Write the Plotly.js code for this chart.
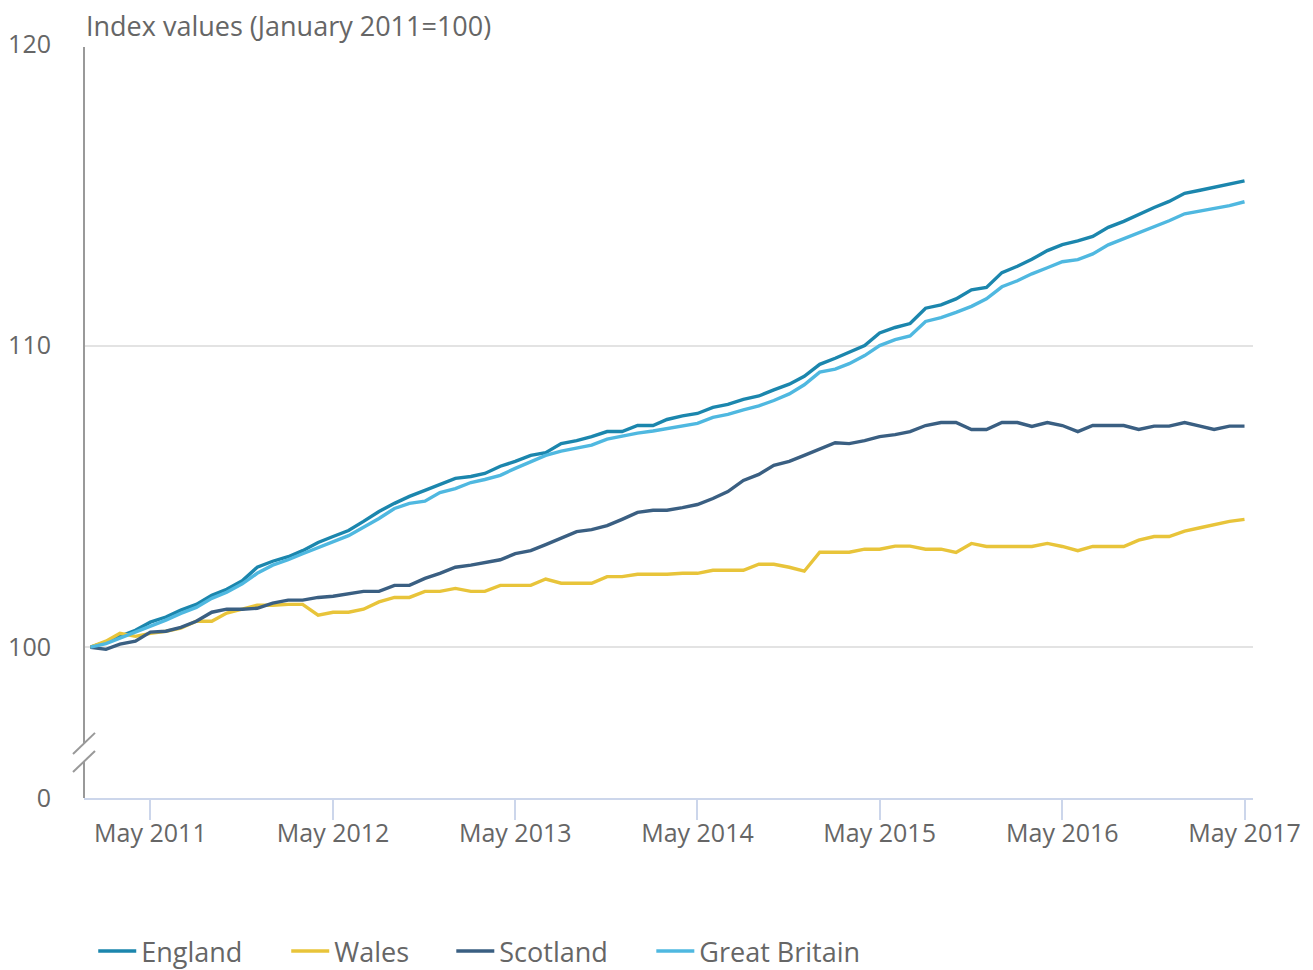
<!DOCTYPE html>
<html>
<head>
<meta charset="utf-8">
<script src="https://cdn.plot.ly/plotly-3.0.1.min.js"></script>
<style>
  html, body { margin: 0; padding: 0; background: #fff; }
  #chart { width: 1313px; height: 970px; }
</style>
</head>
<body>
<div id="chart"></div>
<script>
// Monthly index values, January 2011 to May 2017 (January 2011 = 100)
const startYear = 2011;
const nMonths = 77;
const months = [];
for (let i = 0; i < nMonths; i++) {
  const y = startYear + Math.floor(i / 12);
  const m = (i % 12) + 1;
  months.push(y + '-' + (m < 10 ? '0' + m : m) + '-01');
}

const seriesNames = ['England', 'Wales', 'Scotland', 'Great Britain'];
const seriesColors = ['#1b86ad', '#e8c43a', '#3a5f82', '#4fb8e0'];

const england = [
  100.0, 100.17, 100.36, 100.56, 100.83, 101.0, 101.23, 101.42, 101.72, 101.92, 102.2, 102.65,
  102.85, 103.0, 103.2, 103.47, 103.67, 103.87, 104.17, 104.5, 104.77, 105.0, 105.2, 105.4,
  105.6, 105.66, 105.76, 106.0, 106.16, 106.36, 106.45, 106.75, 106.85, 106.98, 107.15, 107.15,
  107.35, 107.35, 107.55, 107.67, 107.75, 107.95, 108.05, 108.22, 108.33, 108.53, 108.72, 108.98,
  109.38, 109.58, 109.77, 110.0, 110.42, 110.6, 110.73, 111.24, 111.35, 111.55, 111.85, 111.93,
  112.42, 112.63, 112.86, 113.15, 113.35, 113.47, 113.62, 113.92, 114.12, 114.35, 114.58, 114.78,
  115.05, 115.15, 115.25, 115.35, 115.46
];

const wales = [
  100.0, 100.2, 100.46, 100.36, 100.46, 100.53, 100.63, 100.86, 100.86, 101.13, 101.26, 101.39,
  101.39, 101.42, 101.42, 101.06, 101.16, 101.16, 101.26, 101.5, 101.65, 101.65, 101.85, 101.85,
  101.95, 101.85, 101.85, 102.05, 102.05, 102.05, 102.26, 102.12, 102.12, 102.12, 102.34, 102.34,
  102.42, 102.42, 102.42, 102.45, 102.45, 102.55, 102.55, 102.55, 102.75, 102.75, 102.65, 102.52,
  103.15, 103.15, 103.15, 103.25, 103.25, 103.35, 103.35, 103.25, 103.25, 103.14, 103.44, 103.34,
  103.34, 103.34, 103.34, 103.44, 103.34, 103.2, 103.34, 103.34, 103.34, 103.55, 103.67, 103.67,
  103.85, 103.96, 104.07, 104.17, 104.24
];

const scotland = [
  100.0, 99.93, 100.1, 100.2, 100.5, 100.53, 100.66, 100.86, 101.16, 101.26, 101.26, 101.29,
  101.46, 101.56, 101.56, 101.65, 101.69, 101.76, 101.85, 101.85, 102.05, 102.05, 102.28, 102.45,
  102.65, 102.72, 102.8, 102.9, 103.1, 103.2, 103.4, 103.63, 103.83, 103.9, 104.03, 104.24,
  104.47, 104.54, 104.54, 104.63, 104.73, 104.93, 105.16, 105.53, 105.73, 106.03, 106.16, 106.36,
  106.56, 106.78, 106.75, 106.85, 106.98, 107.05, 107.15, 107.35, 107.45, 107.45, 107.22, 107.22,
  107.45, 107.45, 107.32, 107.45, 107.35, 107.15, 107.35, 107.35, 107.35, 107.22, 107.33, 107.33,
  107.45, 107.33, 107.22, 107.33, 107.33
];

const greatBritain = [
  100.0, 100.12, 100.3, 100.5, 100.72, 100.9, 101.12, 101.32, 101.62, 101.82, 102.1, 102.45,
  102.72, 102.9, 103.1, 103.3, 103.5, 103.7, 103.98, 104.27, 104.6, 104.77, 104.84, 105.13,
  105.26, 105.46, 105.56, 105.7, 105.93, 106.16, 106.36, 106.5, 106.6, 106.7, 106.9, 107.0,
  107.1, 107.17, 107.25, 107.32, 107.42, 107.62, 107.72, 107.87, 108.0, 108.18, 108.4, 108.7,
  109.12, 109.22, 109.4, 109.67, 110.0, 110.2, 110.32, 110.8, 110.93, 111.1, 111.3, 111.55,
  111.95, 112.15, 112.38, 112.58, 112.78, 112.85, 113.04, 113.34, 113.54, 113.74, 113.94, 114.14,
  114.37, 114.47, 114.55, 114.64, 114.77
];

const seriesValues = [england, wales, scotland, greatBritain];

// Axis ticks
const xTickVals = ['2011-05-01', '2012-05-01', '2013-05-01', '2014-05-01', '2015-05-01', '2016-05-01', '2017-05-01'];
const xTickText = ['May 2011', 'May 2012', 'May 2013', 'May 2014', 'May 2015', 'May 2016', 'May 2017'];
// The axis is broken: the bottom position (95) is labelled 0
const yTickVals = [95, 100, 110, 120];
const yTickText = ['0', '100', '110', '120'];

const legendNames = ['legend', 'legend2', 'legend3', 'legend4'];
const legendX = [0.0079, 0.1730, 0.3142, 0.4853];

const traces = seriesNames.map((name, i) => ({
  type: 'scatter',
  mode: 'lines',
  name: name,
  x: months,
  y: seriesValues[i],
  line: { color: seriesColors[i], width: 3.4 },
  legend: legendNames[i],
  hoverinfo: 'x+y+name'
}));

const FONT = 'Open Sans, sans-serif';
const GREY = '#666666';

function legendCfg(x) {
  return {
    orientation: 'h',
    x: x, xanchor: 'left',
    y: -0.2035, yanchor: 'middle',
    font: { family: FONT, size: 27, color: GREY },
    bgcolor: 'rgba(0,0,0,0)',
    borderwidth: 0,
    itemwidth: 38
  };
}

const axisGrey = '#999999';
const layout = {
  width: 1313,
  height: 970,
  margin: { l: 84, r: 60, t: 44, b: 172, autoexpand: false },
  paper_bgcolor: '#ffffff',
  plot_bgcolor: '#ffffff',
  font: { family: FONT, size: 25, color: GREY },
  showlegend: true,
  legend: legendCfg(legendX[0]),
  legend2: legendCfg(legendX[1]),
  legend3: legendCfg(legendX[2]),
  legend4: legendCfg(legendX[3]),
  xaxis: {
    type: 'date',
    range: ['2010-12-19', '2017-05-18'],
    tickvals: xTickVals,
    ticktext: xTickText,
    ticks: 'outside',
    ticklen: 20,
    tickwidth: 2,
    tickcolor: '#ccd6eb',
    ticklabelstandoff: -8,
    showline: true,
    linecolor: '#ccd6eb',
    linewidth: 2,
    showgrid: false,
    zeroline: false,
    tickfont: { family: FONT, size: 25, color: GREY }
  },
  yaxis: {
    range: [95, 120],
    tickvals: yTickVals,
    ticktext: yTickText,
    ticks: 'outside',
    ticklen: 27,
    tickcolor: 'rgba(0,0,0,0)',
    showline: false,
    showgrid: true,
    gridcolor: '#e3e3e3',
    gridwidth: 1.5,
    zeroline: false,
    tickfont: { family: FONT, size: 25, color: GREY }
  },
  annotations: [{
    text: 'Index values (January 2011=100)',
    xref: 'paper', yref: 'paper',
    x: 0, y: 1,
    xanchor: 'left', yanchor: 'bottom',
    showarrow: false,
    font: { family: FONT, size: 27, color: GREY },
    yshift: -2
  }],
  shapes: [
    // y-axis line with break
    { type: 'line', xref: 'paper', yref: 'y', x0: 0, x1: 0, y0: 119.9, y1: 96.82,
      line: { color: axisGrey, width: 2 }, layer: 'above' },
    { type: 'line', xref: 'paper', yref: 'y', x0: 0, x1: 0, y0: 96.23, y1: 95,
      line: { color: axisGrey, width: 2 }, layer: 'above' },
    // break marks
    { type: 'line', xref: 'paper', yref: 'y', xsizemode: 'pixel', xanchor: 0,
      x0: -11, x1: 11, y0: 96.46, y1: 97.16,
      line: { color: axisGrey, width: 2 }, layer: 'above' },
    { type: 'line', xref: 'paper', yref: 'y', xsizemode: 'pixel', xanchor: 0,
      x0: -11, x1: 11, y0: 95.86, y1: 96.56,
      line: { color: axisGrey, width: 2 }, layer: 'above' }
  ]
};

Plotly.newPlot('chart', traces, layout, { displayModeBar: false, responsive: false });
</script>
</body>
</html>
